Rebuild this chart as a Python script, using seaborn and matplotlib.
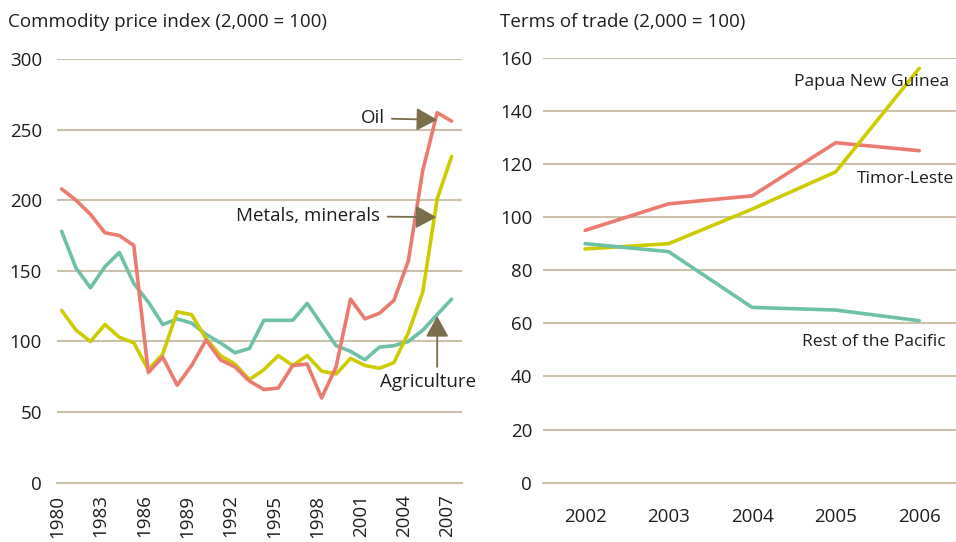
import numpy as np
import pandas as pd
import seaborn as sns
import matplotlib.pyplot as plt

sns.set_style("white")
plt.rcParams['font.family'] = ['Open Sans', 'DejaVu Sans']

# ---- data: commodity price index (2000 = 100)
years = list(range(1980, 2008))
oil = [208, 200, 190, 177, 175, 168, 78, 89, 69, 83, 101, 87, 82, 72, 66, 67,
       83, 84, 60, 82, 130, 116, 120, 129, 157, 221, 262, 256]
agriculture = [178, 152, 138, 153, 163, 141, 128, 112, 116, 113, 105, 99, 92, 95,
               115, 115, 115, 127, 112, 97, 93, 87, 96, 97, 100, 108, 119, 130]
metals = [122, 108, 100, 112, 103, 99, 80, 91, 121, 119, 102, 90, 84, 73, 80, 90,
          83, 90, 79, 77, 88, 83, 81, 85, 106, 135, 201, 231]

# ---- data: terms of trade (2000 = 100)
tot_years = ["2002", "2003", "2004", "2005", "2006"]
timor = [95, 105, 108, 128, 125]
png = [88, 90, 103, 117, 156]
rest_pacific = [90, 87, 66, 65, 61]

RED = "#EB7B70"
TEAL = "#6EC0A8"
YELLOW = "#CDCC00"
GRID = "#CCC1AC"
ARROW = "#7B6E4C"
TXT = "#1e1e1e"
FS = 13.5      # titles, ticks, left labels
FS_R = 12.6    # right-panel series labels (kept inside the figure)

fig = plt.figure(figsize=(9.56, 5.42), dpi=100)
ax1 = fig.add_axes([0.0599, 0.1094, 0.4231, 0.7817])
ax2 = fig.add_axes([0.5683, 0.1094, 0.4369, 0.7841])

df1 = pd.DataFrame({"year": years * 3,
                    "value": oil + agriculture + metals,
                    "series": ["Oil"] * 28 + ["Agriculture"] * 28 + ["Metals"] * 28})
sns.lineplot(data=df1, x="year", y="value", hue="series",
             palette={"Oil": RED, "Agriculture": TEAL, "Metals": YELLOW},
             hue_order=["Agriculture", "Metals", "Oil"],
             linewidth=2.6, legend=False, ax=ax1)

df2 = pd.DataFrame({"year": list(range(5)) * 3,
                    "value": timor + png + rest_pacific,
                    "series": ["Timor"] * 5 + ["PNG"] * 5 + ["Rest"] * 5})
sns.lineplot(data=df2, x="year", y="value", hue="series",
             palette={"Timor": RED, "PNG": YELLOW, "Rest": TEAL},
             hue_order=["Timor", "PNG", "Rest"],
             linewidth=2.6, legend=False, ax=ax2)

for ax in (ax1, ax2):
    sns.despine(ax=ax, left=True, top=True, right=True)
    ax.spines["bottom"].set_color(GRID)
    ax.spines["bottom"].set_linewidth(1.5)
    ax.grid(axis="y", color=GRID, linewidth=1.5)
    ax.set_axisbelow(True)
    ax.set_xlabel("")
    ax.set_ylabel("")
    ax.tick_params(axis="y", length=0, labelsize=FS, colors=TXT)
    ax.tick_params(axis="x", which="both", color=GRID, width=1.5, labelsize=FS,
                   labelcolor=TXT, direction="out")

# left panel axes
off = 0.3
ax1.set_xlim(1980 - off, 2008 - off)
ax1.set_ylim(0, 300)
ax1.set_yticks(range(0, 301, 50))
ax1.tick_params(axis="y", pad=11)
ax1.set_xticks([y - off for y in range(1980, 2009)], minor=True)
ax1.set_xticks([y - off for y in range(1980, 2008, 3)])
ax1.set_xticklabels([str(y) for y in range(1980, 2008, 3)], rotation=90)
ax1.tick_params(axis="x", which="both", length=6.5, pad=2)

# right panel axes
ax2.set_xlim(-0.5, 4.5)
ax2.set_ylim(0, 160)
ax2.set_yticks(range(0, 161, 20))
ax2.tick_params(axis="y", pad=8)
ax2.set_xticks(np.arange(-0.5, 4.6, 1), minor=True)
ax2.set_xticks(range(5))
ax2.set_xticklabels(tot_years)
ax2.tick_params(axis="x", which="minor", length=6.5)
ax2.tick_params(axis="x", which="major", length=0, pad=18)

fig.text(8 / 956, 1 - 22 / 542, "Commodity price index (2,000 = 100)",
         fontsize=FS, color=TXT, va="center", ha="left")
fig.text(500 / 956, 1 - 22 / 542, "Terms of trade (2,000 = 100)",
         fontsize=FS, color=TXT, va="center", ha="left")

# annotations with arrows, left panel
arrow_kw = dict(arrowstyle="-|>,head_length=0.95,head_width=0.52", color=ARROW,
                lw=1.3, shrinkA=3, shrinkB=0, mutation_scale=FS)
ax1.annotate("Oil", xy=(2006.0, 257), xytext=(2002.35, 258),
             fontsize=FS, color=TXT, ha="right", va="center", arrowprops=arrow_kw)
ax1.annotate("Metals, minerals", xy=(2005.95, 188), xytext=(2002.05, 189),
             fontsize=FS, color=TXT, ha="right", va="center", arrowprops=arrow_kw)
ax1.annotate("", xy=(2006.0, 118), xytext=(2006.0, 82),
             arrowprops=dict(arrow_kw, shrinkA=0))
ax1.text(2005.35, 71.5, "Agriculture", fontsize=FS, color=TXT, ha="center", va="center")

# labels, right panel
ax2.text(2.5, 151, "Papua New Guinea", fontsize=FS_R, color=TXT, va="center", ha="left")
ax2.text(3.25, 114.3, "Timor-Leste", fontsize=FS_R, color=TXT, va="center", ha="left")
ax2.text(2.6, 53, "Rest of the Pacific", fontsize=FS_R, color=TXT, va="center", ha="left")

fig.savefig("out.png", dpi=100)
